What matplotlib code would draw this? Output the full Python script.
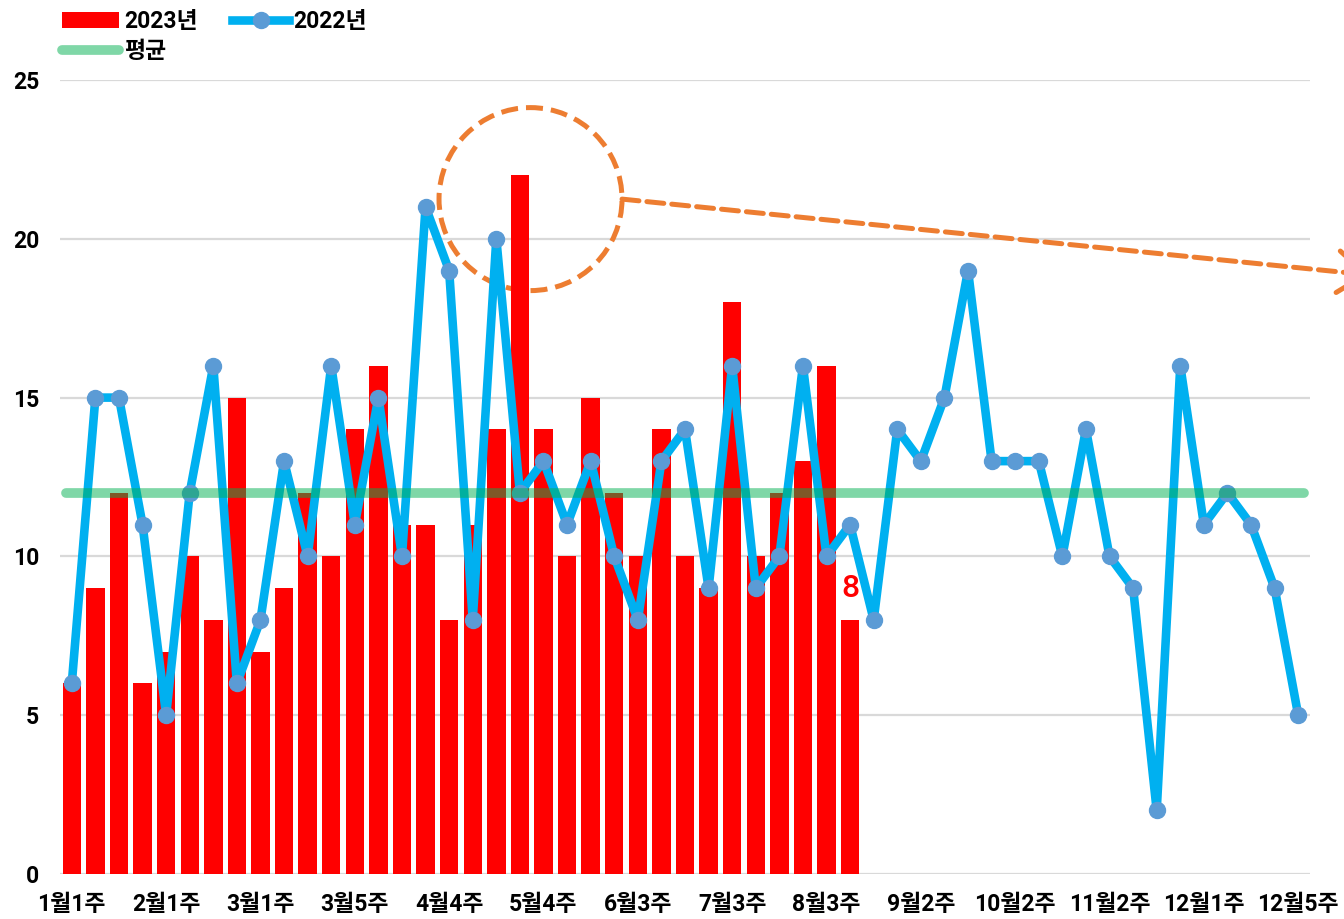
import numpy as np
import matplotlib
matplotlib.use('Agg')
import matplotlib.pyplot as plt
from matplotlib.patches import Circle
from matplotlib.transforms import ScaledTranslation

plt.rcParams['font.family'] = ['Roboto', 'Noto Sans CJK KR', 'DejaVu Sans']
plt.rcParams['font.weight'] = 'bold'

# weeks per month -> labels like 1월1주
weeks_per_month = [4, 4, 5, 4, 5, 4, 4, 5, 4, 4, 5, 5]
week_labels = [f'{m}월{w}주' for m, n in enumerate(weeks_per_month, 1) for w in range(1, n + 1)]

vals_2023 = [6, 9, 12, 6, 7, 10, 8, 15, 7, 9, 12, 10, 14, 16, 11, 11, 8, 11, 14, 22,
             14, 10, 15, 12, 10, 14, 10, 9, 18, 10, 12, 13, 16, 8]
vals_2022 = [6, 15, 15, 11, 5, 12, 16, 6, 8, 13, 10, 16, 11, 15, 10, 21, 19, 8, 20, 12,
             13, 11, 13, 10, 8, 13, 14, 9, 16, 9, 10, 16, 10, 11, 8, 14, 13, 15, 19, 13,
             13, 13, 10, 14, 10, 9, 2, 16, 11, 12, 11, 9, 5]
avg_value = 12

x_all = np.arange(len(week_labels))
x_2023 = np.arange(len(vals_2023))

fig = plt.figure(figsize=(13.44, 9.19), dpi=100)
ax = fig.add_axes([60 / 1344, 45 / 919, 1250 / 1344, 794 / 919])

ax.bar(x_2023, vals_2023, width=0.78, color='#FF0000', label='2023년', zorder=2)
ax.plot(x_all, vals_2022, color='#00B0F0', lw=6.2, marker='o', ms=11.5,
        mfc='#5B9BD5', mec='#5B9BD5', label='2022년', zorder=3)
ax.plot([-0.25, 52.25], [avg_value, avg_value], color='#00B050', alpha=0.5, lw=7,
        solid_capstyle='round', label='평균', zorder=4)

# last 2023 value label
ax.text(x_2023[-1], vals_2023[-1] + 1, str(vals_2023[-1]), color='#FF0000',
        fontsize=23, fontweight='medium', ha='center', va='center', zorder=5)

# dashed circle around the 2023 peak with a pointer line
cx, cy = 19.45, 21.25
circ_trans = fig.dpi_scale_trans + ScaledTranslation(cx, cy, ax.transData)
ax.add_patch(Circle((0, 0), 0.915, transform=circ_trans, fill=False,
                    edgecolor='#ED7D31', lw=3.6, linestyle=(0, (3.4, 1.6)),
                    zorder=1.5, clip_on=False))
ax.annotate('', xy=(1370 / 1344, 1 - 275 / 919), xycoords='figure fraction',
            xytext=(0.915, 0), textcoords=circ_trans,
            arrowprops=dict(arrowstyle='->, head_length=1.0, head_width=0.75',
                            mutation_scale=20, color='#ED7D31', lw=3.6,
                            linestyle=(0, (3.4, 1.6)), shrinkA=0, shrinkB=0),
            annotation_clip=False)

ax.set_xlim(-0.5, 52.5)
ax.set_ylim(0, 25)
ax.set_yticks([0, 5, 10, 15, 20, 25])
ax.set_xticks(x_all[::4], week_labels[::4])
ax.tick_params(axis='both', length=0, labelsize=16.5)
ax.tick_params(axis='y', pad=15)
ax.tick_params(axis='x', pad=14)
ax.grid(axis='y', color='#D9D9D9', lw=1.6, zorder=0)
ax.set_axisbelow(True)
for s in ax.spines.values():
    s.set_visible(False)

h, l = ax.get_legend_handles_labels()
hl = dict(zip(l, h))
order = ['2023년', '평균', '2022년']  # column 1: 2023, 평균; column 2: 2022
fig.legend([hl[k] for k in order], order, ncol=2, frameon=False,
           loc='upper left', bbox_to_anchor=(62 / 1344, 1 - 10 / 919),
           fontsize=16.5, handlelength=2.5, handletextpad=0.2, columnspacing=1.5,
           borderpad=0, borderaxespad=0, labelspacing=0.3)

fig.savefig('out.png', dpi=100)
